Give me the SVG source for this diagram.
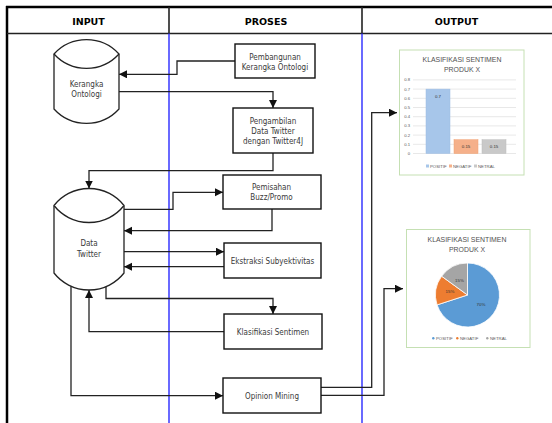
<svg xmlns="http://www.w3.org/2000/svg" width="552" height="423" viewBox="0 0 552 423">
<defs>
<marker id="arr" markerUnits="userSpaceOnUse" markerWidth="9" markerHeight="9" refX="8" refY="4" orient="auto">
<path d="M0,0 L8,4 L0,8 z" fill="#111"/>
</marker>
<style>
.box{fill:#fff;stroke:#111;stroke-width:1.4}
.cyl{fill:#fff;stroke:#222;stroke-width:1.3}
.t{font-family:"DejaVu Sans Condensed","DejaVu Sans","Liberation Sans",sans-serif;font-size:8px;fill:#3a3a3a;text-anchor:middle}
.h{font-family:"DejaVu Sans","Liberation Sans",sans-serif;font-weight:bold;font-size:9.5px;fill:#000;text-anchor:middle}
.c{fill:none;stroke:#222;stroke-width:1.3}
.ca{fill:none;stroke:#222;stroke-width:1.3;marker-end:url(#arr)}
.chart{fill:#fff;stroke:#c5e0b3;stroke-width:1}
.ct{font-family:"Liberation Sans",Arial,sans-serif;font-size:6.9px;fill:#505050;text-anchor:middle}
.ax{font-family:"Liberation Sans",Arial,sans-serif;font-size:4.2px;fill:#595959;text-anchor:end}
.v{font-family:"Liberation Sans",Arial,sans-serif;font-size:4.4px;fill:#333;text-anchor:middle}
.lg{font-family:"Liberation Sans",Arial,sans-serif;font-size:4.3px;fill:#595959}
.g{stroke:#d9d9d9;stroke-width:0.6}
</style>
</defs>
<rect width="552" height="423" fill="#fff"/>
<g id="table">
<line x1="7" y1="6" x2="7" y2="423" stroke="#000" stroke-width="2.5"/>
<line x1="6" y1="7" x2="552" y2="7" stroke="#000" stroke-width="2.5"/>
<line x1="7" y1="33.5" x2="552" y2="33.5" stroke="#222" stroke-width="1.6"/>
<line x1="169" y1="7" x2="169" y2="33.5" stroke="#222" stroke-width="1.6"/>
<line x1="362" y1="7" x2="362" y2="33.5" stroke="#222" stroke-width="1.6"/>
<line x1="169" y1="33.5" x2="169" y2="423" stroke="#2a2aff" stroke-width="1.4"/>
<line x1="362" y1="33.5" x2="362" y2="423" stroke="#2a2aff" stroke-width="1.4"/>
<text class="h" x="88.5" y="25.3">INPUT</text>
<text class="h" x="266" y="25.3">PROSES</text>
<text class="h" x="456.5" y="25.3">OUTPUT</text>
</g>
<g id="connectors">
<path class="ca" d="M235,61 H177 V74.3 H119"/>
<path class="ca" d="M119,91.7 H273 V108"/>
<path class="ca" d="M273,153 V170.7 H89 V188.5"/>
<path class="ca" d="M124,209.3 H173 V192.3 H223"/>
<path class="ca" d="M272,209 V230.7 H124"/>
<path class="ca" d="M124,251.7 H224"/>
<path class="ca" d="M224,266.7 H124"/>
<path class="ca" d="M106,286.6 V298.5 H273 V314"/>
<path class="ca" d="M224,331.7 H89 V290"/>
<path class="ca" d="M71,286.2 V395.7 H223"/>
<path class="ca" d="M321,387.3 H371.7 V112.7 H397"/>
<path class="ca" d="M321,395.3 H384 V288.7 H403"/>
</g>
<g id="kerangka-ontologi">
<path class="cyl" d="M54,54 A44,44 0 0 1 119,54 V109 A44,44 0 0 1 54,109 Z"/>
<path class="cyl" fill="none" d="M54,54 A44,44 0 0 0 119,54"/>
<text class="t" x="86.5" y="86.8">Kerangka</text>
<text class="t" x="86.5" y="96.8">Ontologi</text>
</g>
<g id="data-twitter">
<path class="cyl" d="M54,205.5 A44.5,44.5 0 0 1 124,205.5 V273 A44.5,44.5 0 0 1 54,273 Z"/>
<path class="cyl" fill="none" d="M54,205.5 A44.5,44.5 0 0 0 124,205.5"/>
<text class="t" x="89" y="245.8">Data</text>
<text class="t" x="89" y="256.5">Twitter</text>
</g>
<g id="pembangunan">
<rect class="box" x="235" y="44" width="80" height="34"/>
<text class="t" x="275" y="59.5">Pembangunan</text>
<text class="t" x="275" y="69.5">Kerangka Ontologi</text>
</g>
<g id="pengambilan">
<rect class="box" x="233" y="108" width="80" height="45"/>
<text class="t" x="273" y="123.5">Pengambilan</text>
<text class="t" x="273" y="133.5">Data Twitter</text>
<text class="t" x="273" y="143.5">dengan Twitter4J</text>
</g>
<g id="pemisahan">
<rect class="box" x="223" y="175" width="98" height="34"/>
<text class="t" x="271.5" y="189.8">Pemisahan</text>
<text class="t" x="271.5" y="199.8">Buzz/Promo</text>
</g>
<g id="ekstraksi">
<rect class="box" x="224" y="243" width="97" height="35"/>
<text class="t" x="272.5" y="263.5">Ekstraksi Subyektivitas</text>
</g>
<g id="klasifikasi">
<rect class="box" x="224" y="314" width="98" height="35"/>
<text class="t" x="273" y="334.8">Klasifikasi Sentimen</text>
</g>
<g id="opinion-mining">
<rect class="box" x="223" y="378" width="98" height="35"/>
<text class="t" x="272" y="398.8">Opinion Mining</text>
</g>
<g id="bar-chart">
<rect class="chart" x="399.5" y="50" width="124.5" height="125"/>
<text class="ct" x="462" y="61.5">KLASIFIKASI SENTIMEN</text>
<text class="ct" x="462" y="71.5">PRODUK X</text>
<g class="g">
<line x1="413" y1="79.9" x2="516" y2="79.9"/>
<line x1="413" y1="89.1" x2="516" y2="89.1"/>
<line x1="413" y1="98.3" x2="516" y2="98.3"/>
<line x1="413" y1="107.5" x2="516" y2="107.5"/>
<line x1="413" y1="116.7" x2="516" y2="116.7"/>
<line x1="413" y1="125.9" x2="516" y2="125.9"/>
<line x1="413" y1="135.1" x2="516" y2="135.1"/>
<line x1="413" y1="144.3" x2="516" y2="144.3"/>
<line x1="413" y1="153.5" x2="516" y2="153.5"/>
</g>
<text class="ax" x="410" y="81.3">0.8</text>
<text class="ax" x="410" y="90.5">0.7</text>
<text class="ax" x="410" y="99.7">0.6</text>
<text class="ax" x="410" y="108.9">0.5</text>
<text class="ax" x="410" y="118.1">0.4</text>
<text class="ax" x="410" y="127.3">0.3</text>
<text class="ax" x="410" y="136.5">0.2</text>
<text class="ax" x="410" y="145.7">0.1</text>
<text class="ax" x="410" y="154.9">0</text>
<rect x="426" y="89.1" width="24" height="64.4" fill="#a7c6ea" stroke="#9dbde3" stroke-width="0.5"/>
<rect x="454" y="139.7" width="24" height="13.8" fill="#f5b08a" stroke="#f0a070" stroke-width="0.5"/>
<rect x="482" y="139.7" width="24" height="13.8" fill="#c9c9c9" stroke="#bdbdbd" stroke-width="0.5"/>
<text class="v" x="438" y="97.5">0.7</text>
<text class="v" x="466" y="148">0.15</text>
<text class="v" x="494" y="148">0.15</text>
<rect x="426" y="164.5" width="3" height="3" fill="#a7c6ea"/>
<text class="lg" x="430" y="167.5">POSITIF</text>
<rect x="449" y="164.5" width="3" height="3" fill="#f5b08a"/>
<text class="lg" x="453" y="167.5">NEGATIF</text>
<rect x="474" y="164.5" width="3" height="3" fill="#c9c9c9"/>
<text class="lg" x="478" y="167.5">NETRAL</text>
</g>
<g id="pie-chart">
<rect class="chart" x="406.5" y="229.5" width="123.5" height="118"/>
<text class="ct" x="467" y="242">KLASIFIKASI SENTIMEN</text>
<text class="ct" x="467" y="252">PRODUK X</text>
<path d="M467.5,295 L467.5,263 A32,32 0 1 1 437.07,304.89 Z" fill="#5b9bd5" stroke="#fff" stroke-width="0.8"/>
<path d="M467.5,295 L437.07,304.89 A32,32 0 0 1 441.61,276.19 Z" fill="#ed7d31" stroke="#fff" stroke-width="0.8"/>
<path d="M467.5,295 L441.61,276.19 A32,32 0 0 1 467.5,263 Z" fill="#a5a5a5" stroke="#fff" stroke-width="0.8"/>
<text class="v" x="481" y="305.5">70%</text>
<text class="v" x="450" y="293">15%</text>
<text class="v" x="459.5" y="281.5">15%</text>
<circle cx="433.3" cy="338.2" r="1.2" fill="#5b9bd5"/>
<text class="lg" x="436" y="339.7">POSITIF</text>
<circle cx="457.3" cy="338.2" r="1.2" fill="#ed7d31"/>
<text class="lg" x="460" y="339.7">NEGATIF</text>
<circle cx="487.3" cy="338.2" r="1.2" fill="#a5a5a5"/>
<text class="lg" x="490" y="339.7">NETRAL</text>
</g>
</svg>
